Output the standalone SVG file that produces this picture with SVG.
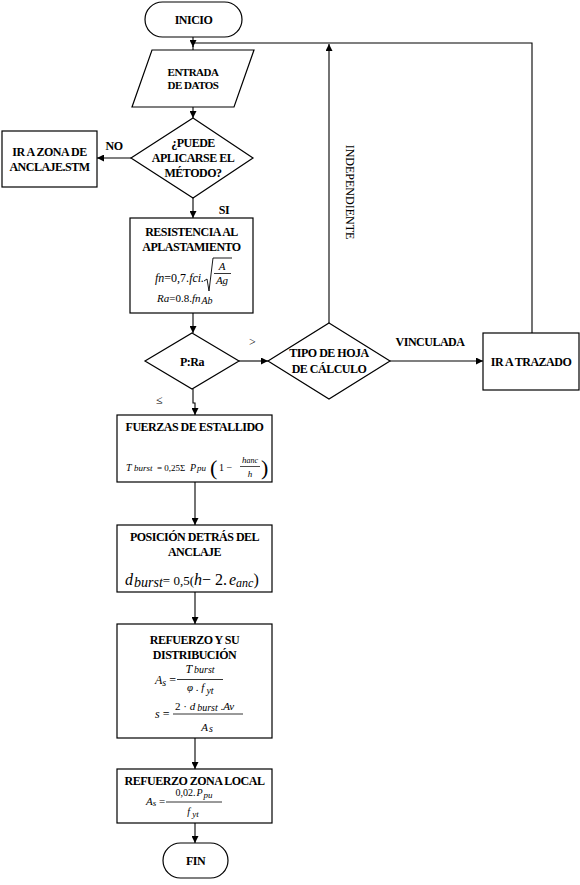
<svg xmlns="http://www.w3.org/2000/svg" width="580" height="885" viewBox="0 0 580 885">
<defs>
<marker id="ar" markerUnits="userSpaceOnUse" markerWidth="8" markerHeight="7" refX="7" refY="3.5" orient="auto">
<path d="M0,0 L7,3.5 L0,7 z" fill="#000"/>
</marker>
<style>
.s{fill:#fff;stroke:#000;stroke-width:1.2}
.c{fill:none;stroke:#000;stroke-width:1.1}
text{font-family:'Liberation Serif','DejaVu Serif','Times New Roman',serif}
.b{font-weight:bold;font-size:12px;fill:#000;letter-spacing:-0.5px;text-anchor:middle}
.sm{font-size:11px}
.n{font-size:12px;fill:#000}
.i{font-style:italic;fill:#000}
.u{font-style:normal}
</style>
</defs>
<rect width="580" height="885" fill="#fff"/>
<g id="connectors">
<path class="c" d="M193,37 V47" marker-end="url(#ar)"/>
<path class="c" d="M193,46 V50"/>
<path class="c" d="M532,333 V43 H193"/>
<path class="c" d="M193,107 V118" marker-end="url(#ar)"/>
<path class="c" d="M131,158 H97" marker-end="url(#ar)"/>
<path class="c" d="M193,198 V218" marker-end="url(#ar)"/>
<path class="c" d="M193,313 V333" marker-end="url(#ar)"/>
<path class="c" d="M239,361 H268" marker-end="url(#ar)"/>
<path class="c" d="M390,361 H483" marker-end="url(#ar)"/>
<path class="c" d="M329,323 V44" marker-end="url(#ar)"/>
<path class="c" d="M193,389 V403 H195 V415" marker-end="url(#ar)"/>
<path class="c" d="M195,482 V525" marker-end="url(#ar)"/>
<path class="c" d="M195,592 V624" marker-end="url(#ar)"/>
<path class="c" d="M195,738 V769" marker-end="url(#ar)"/>
<path class="c" d="M195,823 V843" marker-end="url(#ar)"/>
<text class="b" x="114" y="150">NO</text>
<text class="b" x="224" y="214">SI</text>
<text class="n" x="249" y="346">&gt;</text>
<text class="n" x="156" y="404">≤</text>
<text class="b" x="430" y="346">VINCULADA</text>
<text class="n" transform="translate(346,192) rotate(90)" text-anchor="middle" style="font-size:12px">INDEPENDIENTE</text>
</g>
<g id="inicio">
<rect class="s" x="145" y="2" width="97" height="35" rx="17.5"/>
<text class="b" x="193.5" y="24">INICIO</text>
</g>
<g id="entrada">
<polygon class="s" points="152,50 254,50 234,107 132,107"/>
<text class="b sm" x="193" y="76">ENTRADA</text>
<text class="b sm" x="193" y="89">DE DATOS</text>
</g>
<g id="puede">
<polygon class="s" points="193,118 253,158 193,198 131,158"/>
<text class="b" x="193" y="147">¿PUEDE</text>
<text class="b" x="193" y="162">APLICARSE EL</text>
<text class="b" x="193" y="177">MÉTODO?</text>
</g>
<g id="zona-anclaje">
<rect class="s" x="2" y="131" width="95" height="56"/>
<text class="b" x="49.5" y="156">IR A ZONA DE</text>
<text class="b" x="49.5" y="171">ANCLAJE.STM</text>
</g>
<g id="resistencia">
<rect class="s" x="130" y="218" width="123" height="95"/>
<text class="b" x="191.5" y="236">RESISTENCIA AL</text>
<text class="b" x="191.5" y="251">APLASTAMIENTO</text>
<text class="i" x="155" y="282" style="font-size:12px">fn<tspan class="u">=0,7.</tspan>fci.</text>
<path class="c" d="M204,281 L207,279 L209,291 L213,258 H232" style="stroke-width:0.9"/>
<text class="i" x="222" y="270" text-anchor="middle" style="font-size:11px">A</text>
<path class="c" d="M214,273.5 H231" style="stroke-width:0.8"/>
<text class="i" x="222" y="284" text-anchor="middle" style="font-size:11px">Ag</text>
<text class="i" x="157" y="302" style="font-size:11px">Ra<tspan class="u">=0.8.</tspan>fn<tspan dx="1" dy="2" style="font-size:10px">Ab</tspan></text>
</g>
<g id="p-ra">
<polygon class="s" points="192,333 239,361 192,389 145,361"/>
<text class="b" x="192" y="366">P:Ra</text>
</g>
<g id="tipo-hoja">
<polygon class="s" points="329,323 390,361 329,399 268,361"/>
<text class="b" x="329" y="357">TIPO DE HOJA</text>
<text class="b" x="329" y="373">DE CÁLCULO</text>
</g>
<g id="trazado">
<rect class="s" x="483" y="333" width="96" height="57"/>
<text class="b" x="531" y="366">IR A TRAZADO</text>
</g>
<g id="fuerzas">
<rect class="s" x="117" y="415" width="155" height="67"/>
<text class="b" x="194.5" y="431">FUERZAS DE ESTALLIDO</text>
<text class="i" x="126" y="471" style="font-size:10px">T</text>
<text class="i" x="134" y="471" style="font-size:9px">burst</text>
<text class="n" x="157" y="471" style="font-size:9px">= 0,25Σ</text>
<text class="i" x="190" y="471" style="font-size:10px">P</text>
<text class="i" x="197" y="471" style="font-size:9px">pu</text>
<text class="n" x="210" y="475" style="font-size:22px;font-weight:normal">(</text>
<text class="n" x="219" y="471" style="font-size:10px">1 −</text>
<text class="i" x="250" y="463" text-anchor="middle" style="font-size:9px">h<tspan style="font-size:8px">anc</tspan></text>
<path class="c" d="M240,466.5 H260" style="stroke-width:0.7"/>
<text class="i" x="250" y="477" text-anchor="middle" style="font-size:9px">h</text>
<text class="n" x="261" y="475" style="font-size:22px;font-weight:normal">)</text>
</g>
<g id="posicion">
<rect class="s" x="117" y="525" width="155" height="67"/>
<text class="b" x="194.5" y="541">POSICIÓN DETRÁS DEL</text>
<text class="b" x="194.5" y="556">ANCLAJE</text>
<text class="i" x="125" y="585" style="font-size:16px">d<tspan dx="1" dy="2" style="font-size:14px">burst</tspan><tspan class="u" dy="-2" style="font-size:13px">= 0,5(</tspan>h<tspan class="u">− 2.</tspan><tspan dx="2">e</tspan><tspan dy="2" style="font-size:12px">anc</tspan><tspan class="u" dy="-2">)</tspan></text>
</g>
<g id="refuerzo">
<rect class="s" x="117" y="624" width="155" height="114"/>
<text class="b" x="194.5" y="644">REFUERZO Y SU</text>
<text class="b" x="194.5" y="659">DISTRIBUCIÓN</text>
<text class="i" x="155" y="684" style="font-size:12px">A<tspan dy="2" style="font-size:10px">s</tspan><tspan class="u" dy="-2"> =</tspan></text>
<text class="i" x="200" y="673" text-anchor="middle" style="font-size:12px">T<tspan dx="2" style="font-size:10px">burst</tspan></text>
<path class="c" d="M177,679.5 H223" style="stroke-width:0.8"/>
<text class="i" x="187" y="691" style="font-size:11px">φ<tspan class="u"> . </tspan>f<tspan dx="2" dy="3" style="font-size:10px">yt</tspan></text>
<text class="i" x="155" y="718" style="font-size:12px">s<tspan class="u"> =</tspan></text>
<text class="i" x="175" y="710" style="font-size:11px"><tspan class="u">2 · </tspan>d<tspan dx="2" dy="1" style="font-size:10px">burst</tspan><tspan class="u" dy="-1"> .</tspan>Av</text>
<path class="c" d="M173,714 H243" style="stroke-width:0.8"/>
<text class="i" x="207" y="731" text-anchor="middle" style="font-size:11px">A<tspan dx="1" dy="1" style="font-size:10px">s</tspan></text>
</g>
<g id="zona-local">
<rect class="s" x="117" y="769" width="155" height="54"/>
<text class="b" x="194.5" y="785">REFUERZO ZONA LOCAL</text>
<text class="i" x="146" y="805" style="font-size:11px">A<tspan dy="1" style="font-size:9px">s</tspan><tspan class="u" dy="-1"> =</tspan></text>
<text class="i" x="194" y="796" text-anchor="middle" style="font-size:10px"><tspan class="u">0,02.</tspan><tspan dx="1">P</tspan><tspan dx="1" dy="2" style="font-size:9px">pu</tspan></text>
<path class="c" d="M166,802 H222" style="stroke-width:0.8"/>
<text class="i" x="193" y="815" text-anchor="middle" style="font-size:10px">f<tspan dx="2" dy="2" style="font-size:9px">yt</tspan></text>
</g>
<g id="fin">
<rect class="s" x="163" y="843" width="65" height="35" rx="17.5"/>
<text class="b" x="195.5" y="865">FIN</text>
</g>
</svg>
